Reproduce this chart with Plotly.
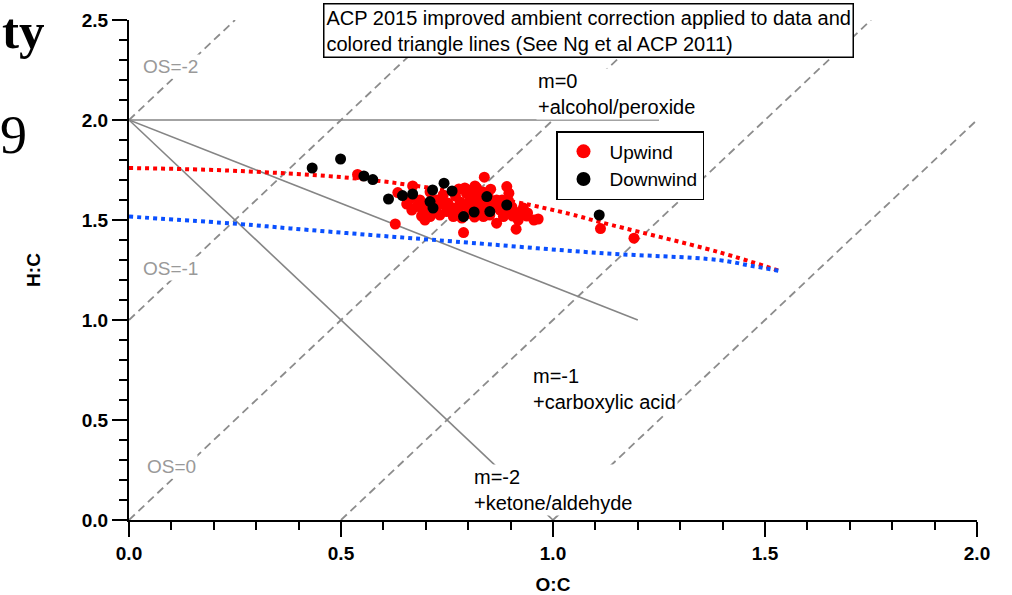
import plotly.graph_objects as go

# --- Upwind (red) and Downwind (black) samples: O:C, H:C ---
upwind_oc = [0.539, 0.634, 0.669, 0.628, 0.838, 0.853, 0.891, 0.896, 0.895, 0.918,
             0.938, 0.955, 0.913, 0.789, 0.867, 1.112, 1.191, 0.678, 0.694, 0.710,
             0.698, 0.726, 0.741, 0.749, 0.764, 0.770, 0.781, 0.796, 0.812, 0.820,
             0.828, 0.733, 0.765, 0.804, 0.836, 0.875, 0.883, 0.860, 0.867, 0.737,
             0.780, 0.686, 0.710, 0.792, 0.816, 0.847, 0.903, 0.922, 0.851, 0.667,
             0.804, 0.752, 0.887, 0.823, 0.785, 0.726, 0.840,
             0.700, 0.720, 0.745, 0.775, 0.790, 0.800, 0.810, 0.815, 0.830, 0.845,
             0.855, 0.870, 0.880, 0.890, 0.905, 0.800, 0.835, 0.690, 0.655, 0.665,
             0.930, 0.940, 0.965, 0.778, 0.820]
upwind_hc = [1.728, 1.637, 1.670, 1.480, 1.714, 1.654, 1.667, 1.634, 1.597, 1.500,
             1.520, 1.500, 1.454, 1.437, 1.484, 1.457, 1.409, 1.567, 1.542, 1.517,
             1.500, 1.600, 1.625, 1.542, 1.560, 1.620, 1.590, 1.633, 1.625, 1.583,
             1.550, 1.525, 1.517, 1.533, 1.517, 1.550, 1.517, 1.583, 1.600, 1.600,
             1.567, 1.600, 1.640, 1.660, 1.670, 1.620, 1.565, 1.540, 1.525, 1.550,
             1.600, 1.585, 1.580, 1.635, 1.510, 1.565, 1.565,
             1.580, 1.540, 1.575, 1.540, 1.575, 1.560, 1.600, 1.515, 1.600, 1.585,
             1.560, 1.570, 1.600, 1.540, 1.520, 1.650, 1.640, 1.520, 1.580, 1.610,
             1.560, 1.535, 1.505, 1.655, 1.660]

downwind_oc = [0.499, 0.432, 0.554, 0.575, 0.612, 0.645, 0.669, 0.716, 0.743, 0.762,
               0.710, 0.717, 0.844, 0.851, 0.891, 0.789, 1.109, 0.814]
downwind_hc = [1.805, 1.760, 1.720, 1.702, 1.605, 1.622, 1.630, 1.650, 1.684, 1.645,
               1.592, 1.560, 1.617, 1.542, 1.575, 1.517, 1.525, 1.540]

# --- colored triangle boundaries (improved ambient correction) ---
red_edge_oc = [0.0, 0.26, 0.57, 0.91, 1.04, 1.11, 1.39, 1.535]
red_edge_hc = [1.76, 1.745, 1.70, 1.59, 1.53, 1.49, 1.34, 1.245]
blue_edge_oc = [0.0, 0.26, 0.38, 0.57, 0.77, 1.11, 1.39, 1.47, 1.535]
blue_edge_hc = [1.517, 1.48, 1.458, 1.425, 1.392, 1.335, 1.30, 1.27, 1.245]

# --- functionalization lines from (0, 2) ---
func_labels = ["m=0", "m=-1", "m=-2"]
func_end_oc = [1.25, 1.2, 1.0]
func_end_hc = [2.0, 1.0, 0.0]

# --- average carbon oxidation state lines: OS = 2*O:C - H:C ---
os_values = [-2, -1, 0, 1, 2]

X_MAX, Y_MAX = 2.0, 2.5
FONT = "Liberation Sans, Arial, sans-serif"
SERIF = "Liberation Serif, Times New Roman, serif"

fig = go.Figure()

for os_ in os_values:
    # clip each iso-OS line to the axis box
    x0 = max(0.0, os_ / 2)
    x1 = min(X_MAX, (Y_MAX + os_) / 2)
    fig.add_trace(go.Scatter(
        x=[x0, x1], y=[2 * x0 - os_, 2 * x1 - os_], mode="lines",
        line=dict(color="#8c8c8c", width=1.8, dash="8px,5px"),
        showlegend=False, hoverinfo="skip"))

for xe, ye in zip(func_end_oc, func_end_hc):
    fig.add_trace(go.Scatter(
        x=[0.0, xe], y=[2.0, ye], mode="lines",
        line=dict(color="#858585", width=1.6),
        showlegend=False, hoverinfo="skip"))

fig.add_trace(go.Scatter(
    x=red_edge_oc, y=red_edge_hc, mode="lines", line_shape="spline",
    line=dict(color="#ff0000", width=4, dash="dot"),
    showlegend=False, hoverinfo="skip"))
fig.add_trace(go.Scatter(
    x=blue_edge_oc, y=blue_edge_hc, mode="lines", line_shape="spline",
    line=dict(color="#0a50ff", width=4, dash="dot"),
    showlegend=False, hoverinfo="skip"))

# Upwind cloud first, Downwind samples drawn on top of it
fig.add_trace(go.Scatter(
    x=upwind_oc, y=upwind_hc, mode="markers", name="Upwind",
    legendgroup="up", showlegend=False,
    marker=dict(color="#ff0000", size=11, line=dict(width=0))))
fig.add_trace(go.Scatter(
    x=downwind_oc, y=downwind_hc, mode="markers", name="Downwind",
    legendgroup="down", showlegend=False,
    marker=dict(color="#000000", size=11, line=dict(width=0))))

# legend entries with larger symbols
fig.add_trace(go.Scatter(
    x=[None], y=[None], mode="markers", name="Upwind", legendgroup="up",
    marker=dict(color="#ff0000", size=14), legendrank=1))
fig.add_trace(go.Scatter(
    x=[None], y=[None], mode="markers", name="Downwind", legendgroup="down",
    marker=dict(color="#000000", size=14), legendrank=2))

# pixel helpers for annotation placement
L, R, T, B = 129, 35, 20, 75
W, H = 1012, 595
PW, PH = W - L - R, H - T - B


def px(xp):
    return (xp - L) / PW


def py(yp):
    return (H - B - yp) / PH


annotations = [
    dict(text="ACP 2015 improved ambient correction applied to data and<br>"
              "colored triangle lines (See Ng et al ACP 2011)",
         x=px(323), y=py(3), xanchor="left", yanchor="top", align="left",
         font=dict(family=FONT, size=20, color="black"),
         bgcolor="white", bordercolor="black", borderwidth=1.5, borderpad=2),
    dict(text=func_labels[0] + "<br>+alcohol/peroxide", x=px(536), y=py(94),
         xanchor="left", yanchor="middle", align="left",
         font=dict(family=FONT, size=20, color="black"), bgcolor="white", borderpad=1),
    dict(text=func_labels[1] + "<br>+carboxylic acid", x=px(531), y=py(389),
         xanchor="left", yanchor="middle", align="left",
         font=dict(family=FONT, size=20, color="black"), bgcolor="white", borderpad=1),
    dict(text=func_labels[2] + "<br>+ketone/aldehyde", x=px(472), y=py(490),
         xanchor="left", yanchor="middle", align="left",
         font=dict(family=FONT, size=20, color="black"), bgcolor="white", borderpad=1),
    dict(text="OS=-2", x=px(141), y=py(67), xanchor="left", yanchor="middle",
         font=dict(family=FONT, size=19, color="#999999"), bgcolor="white", borderpad=1),
    dict(text="OS=-1", x=px(141), y=py(268), xanchor="left", yanchor="middle",
         font=dict(family=FONT, size=19, color="#999999"), bgcolor="white", borderpad=1),
    dict(text="OS=0", x=px(145), y=py(466), xanchor="left", yanchor="middle",
         font=dict(family=FONT, size=19, color="#999999"), bgcolor="white", borderpad=1),
    dict(text="<b>ty</b>", x=px(46), y=py(31), xanchor="right", yanchor="middle",
         font=dict(family=SERIF, size=51, color="black")),
    dict(text="9", x=px(29), y=py(135), xanchor="right", yanchor="middle",
         font=dict(family=SERIF, size=54, color="black")),
]
for a in annotations:
    a.setdefault("showarrow", False)
    a["xref"] = "paper"
    a["yref"] = "paper"

axis_common = dict(
    showgrid=False, zeroline=False, showline=True, linecolor="black", linewidth=2,
    ticks="outside", ticklen=15, tickwidth=2, tickcolor="black",
    tickfont=dict(family=FONT, size=19, color="black", weight="bold"),
    tickformat=".1f", dtick=0.5, automargin=False,
    minor=dict(ticks="outside", ticklen=8, tickwidth=2, tickcolor="black", dtick=0.1),
    mirror=False,
)

fig.update_layout(
    width=W, height=H,
    margin=dict(l=L, r=R, t=T, b=B, pad=0, autoexpand=False),
    paper_bgcolor="white", plot_bgcolor="white",
    xaxis=dict(range=[0, X_MAX], tick0=0,
               title=dict(text="O:C", standoff=18,
                          font=dict(family=FONT, size=19, color="black", weight="bold")),
               **axis_common),
    yaxis=dict(range=[0, Y_MAX], tick0=0,
               title=dict(text="H:C", standoff=36,
                          font=dict(family=FONT, size=19, color="black", weight="bold")),
               **axis_common),
    legend=dict(x=px(556), y=py(131), xanchor="left", yanchor="top",
                bgcolor="white", bordercolor="black", borderwidth=1.5,
                font=dict(family=FONT, size=19, color="black"),
                itemwidth=42, itemsizing="trace", tracegroupgap=0),
    annotations=annotations,
    showlegend=True,
)

fig.write_html("out.html")
